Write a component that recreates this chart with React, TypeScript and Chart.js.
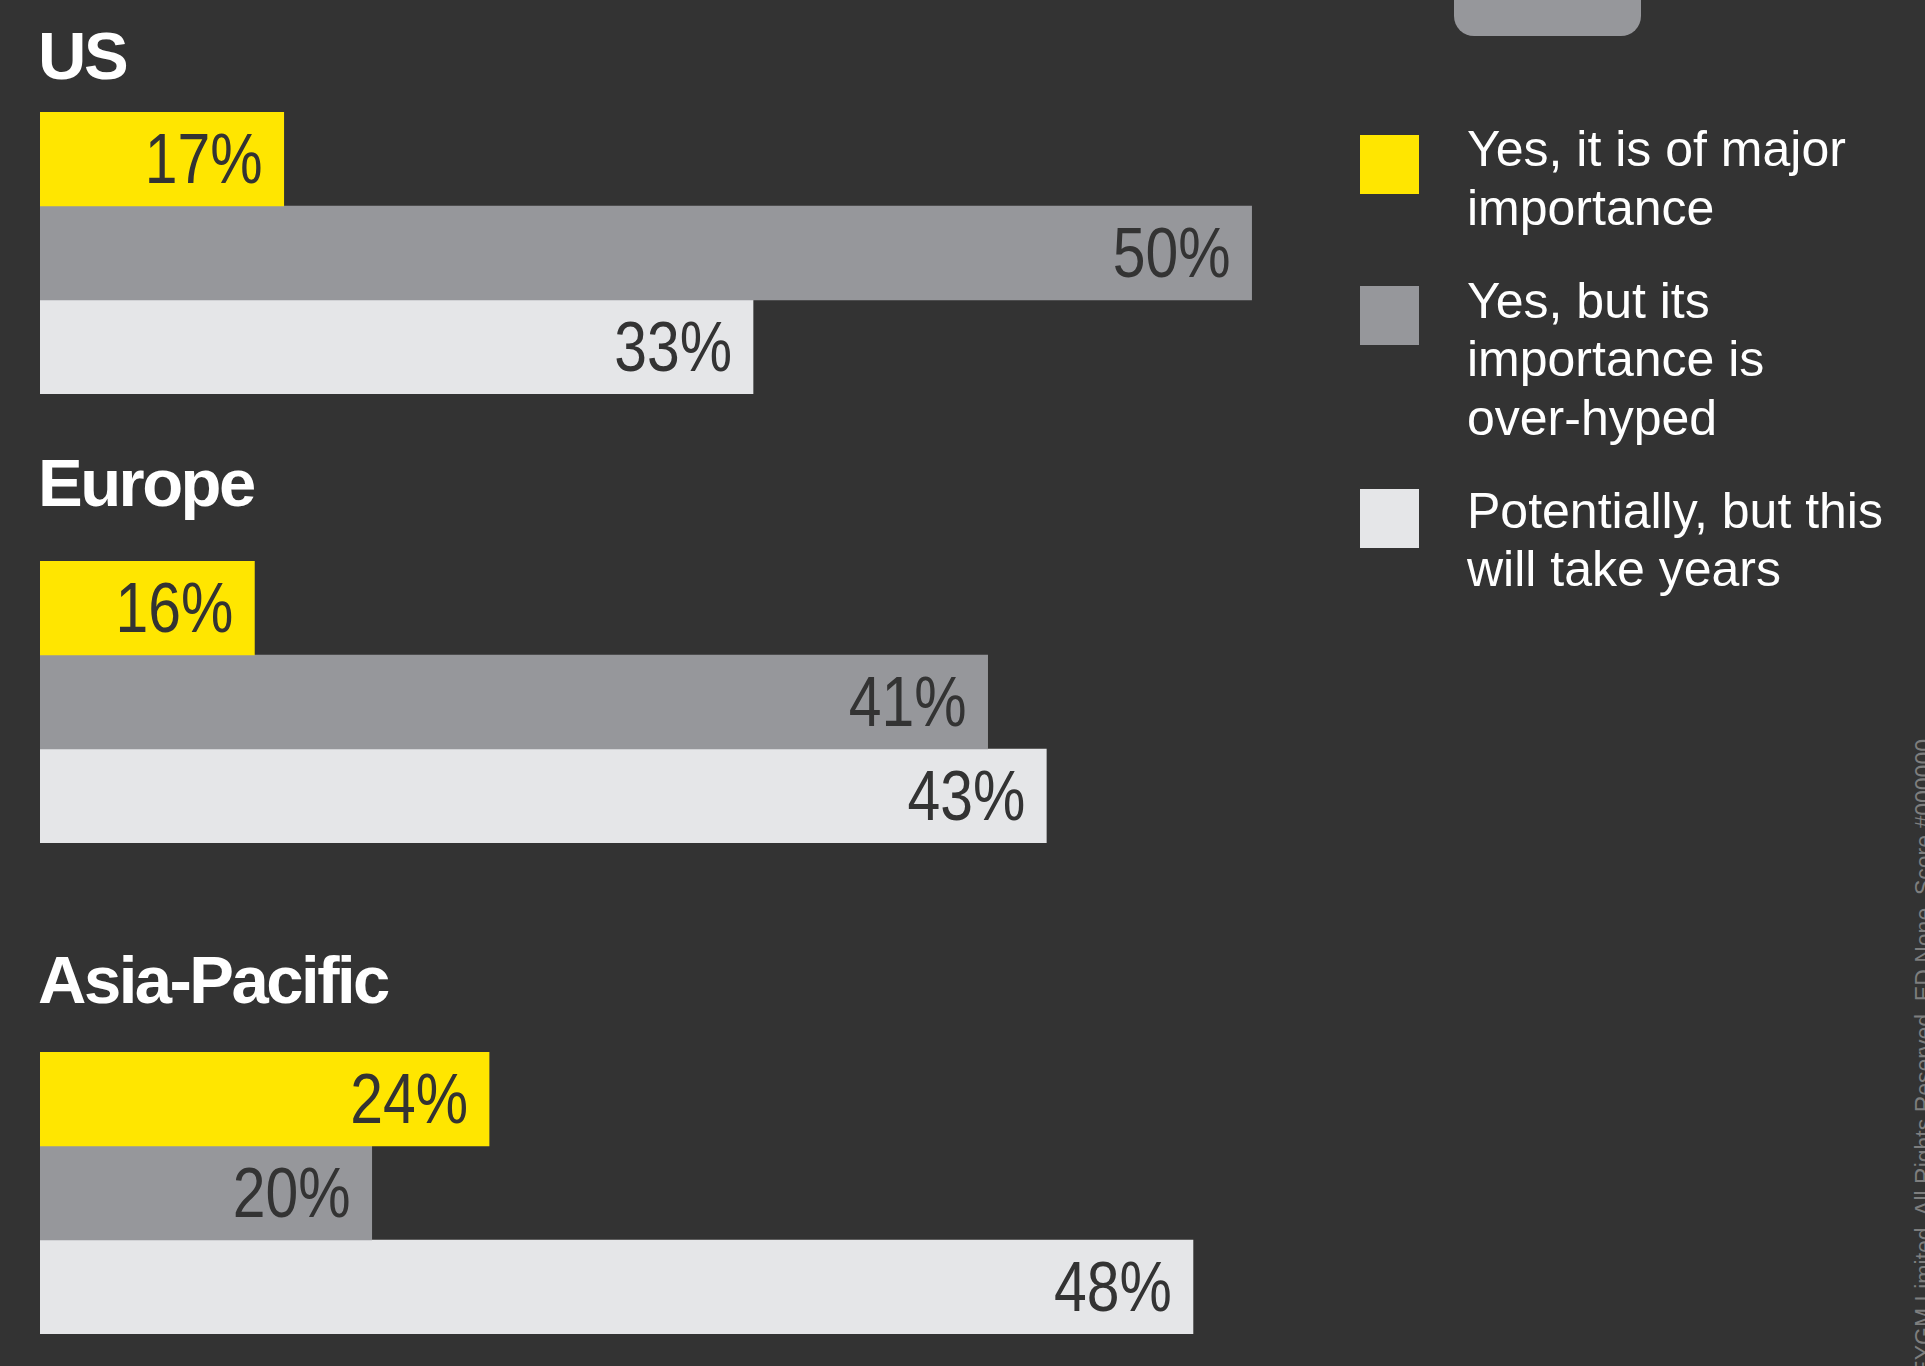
import React, { useEffect, useRef } from "react";
import { Chart, registerables } from "chart.js";

Chart.register(...registerables);

// ---- Data ----
const regions = ["US", "Europe", "Asia-Pacific"];
const seriesLabels = [
  "Yes, it is of major importance",
  "Yes, but its importance is over-hyped",
  "Potentially, but this will take years",
];
const legendLines = [
  ["Yes, it is of major", "importance"],
  ["Yes, but its", "importance is", "over-hyped"],
  ["Potentially, but this", "will take years"],
];
const majorImportance = [17, 16, 24];
const overHyped = [50, 41, 20];
const takesYears = [33, 43, 48];
const seriesColors = ["#ffe600", "#96979b", "#e5e6e8"];
const footnote = "EYGM Limited. All Rights Reserved. ED None. Score #000000";

// ---- Layout ----
const BG = "#333333";
const CHART_LEFT = 40;
const CHART_W = 1300;
const CHART_H = 282;
const AXIS_MIN = 8.69;
const AXIS_MAX = AXIS_MIN + CHART_W / 29.33;
const groupTops = [112, 561, 1052];
const titleBaselines = [79, 506, 1003];
const legendBaselines = [166.7, 318.3, 528.3];
const legendSquareTops = [135, 286, 489];

const seriesValues = [majorImportance, overHyped, takesYears];

const LABEL_SIZE = 71;

const labelPlugin = {
  id: "valueLabels",
  afterDatasetsDraw(chart: any) {
    const ctx = chart.ctx;
    ctx.save();
    ctx.font = `${LABEL_SIZE}px "Liberation Sans", Arial, sans-serif`;
    const w = ctx.measureText("00%").width;
    const sx = Math.min(1, (1.66 * LABEL_SIZE) / w);
    ctx.fillStyle = BG;
    ctx.textAlign = "right";
    ctx.textBaseline = "alphabetic";
    chart.data.datasets.forEach((ds: any, i: number) => {
      const meta = chart.getDatasetMeta(i);
      meta.data.forEach((bar: any, j: number) => {
        ctx.save();
        ctx.translate(bar.x - 21, bar.y + 24);
        ctx.scale(sx, 1);
        ctx.fillText(`${ds.data[j]}%`, 0, 0);
        ctx.restore();
      });
    });
    ctx.restore();
  },
};

function RegionChart({ idx }: { idx: number }) {
  const ref = useRef<HTMLCanvasElement>(null);
  useEffect(() => {
    const chart = new Chart(ref.current as HTMLCanvasElement, {
      type: "bar",
      data: {
        labels: [regions[idx]],
        datasets: seriesValues.map((vals, s) => ({
          label: seriesLabels[s],
          data: [vals[idx]],
          backgroundColor: seriesColors[s],
          borderWidth: 0,
          categoryPercentage: 1,
          barPercentage: 1,
        })),
      },
      options: {
        indexAxis: "y",
        responsive: false,
        animation: false,
        devicePixelRatio: 1,
        layout: { padding: 0 },
        scales: {
          x: { type: "linear", min: AXIS_MIN, max: AXIS_MAX, display: false },
          y: { display: false },
        },
        plugins: { legend: { display: false }, tooltip: { enabled: false } },
      } as any,
      plugins: [labelPlugin as any],
    });
    return () => chart.destroy();
  }, [idx]);
  return (
    <canvas
      ref={ref}
      width={CHART_W}
      height={CHART_H}
      style={{
        position: "absolute",
        left: CHART_LEFT,
        top: groupTops[idx],
        width: CHART_W,
        height: CHART_H,
      }}
    />
  );
}

export default function App() {
  useEffect(() => {
    document.body.style.margin = "0";
    document.body.style.background = BG;
  }, []);
  const titleSize = 67;
  const titleOffset = (titleSize - 1.117 * titleSize) / 2 + 0.905 * titleSize;
  const legSize = 50;
  const legLH = 58.5;
  const legOffset = (legLH - 1.117 * legSize) / 2 + 0.905 * legSize;
  return (
    <div
      style={{
        position: "absolute",
        left: 0,
        top: 0,
        width: 1925,
        height: 1366,
        overflow: "hidden",
        background: BG,
        fontFamily: '"Liberation Sans", Arial, sans-serif',
      }}
    >
      {/* top-right tab */}
      <div
        style={{
          position: "absolute",
          left: 1454,
          top: -30,
          width: 187,
          height: 66,
          borderRadius: 20,
          background: "#96979b",
        }}
      />
      {regions.map((r, i) => (
        <div
          key={r}
          style={{
            position: "absolute",
            left: 38,
            top: titleBaselines[i] - titleOffset,
            fontSize: titleSize,
            lineHeight: `${titleSize}px`,
            fontWeight: 700,
            letterSpacing: "-2.5px",
            color: "#ffffff",
            whiteSpace: "nowrap",
          }}
        >
          {r}
        </div>
      ))}
      {regions.map((r, i) => (
        <RegionChart key={r} idx={i} />
      ))}
      {legendLines.map((lines, i) => (
        <React.Fragment key={i}>
          <div
            style={{
              position: "absolute",
              left: 1360,
              top: legendSquareTops[i],
              width: 59,
              height: 59,
              background: seriesColors[i],
            }}
          />
          <div
            style={{
              position: "absolute",
              left: 1467,
              top: legendBaselines[i] - legOffset,
              fontSize: legSize,
              lineHeight: `${legLH}px`,
              color: "#ffffff",
              whiteSpace: "nowrap",
            }}
          >
            {lines.map((l, k) => (
              <div key={k}>{l}</div>
            ))}
          </div>
        </React.Fragment>
      ))}
      <div
        style={{
          position: "absolute",
          left: 1913,
          top: 739,
          fontSize: 23,
          lineHeight: "23px",
          color: "#7e7e7e",
          whiteSpace: "nowrap",
          transformOrigin: "0 0",
          transform: "rotate(-90deg) translateX(-100%)",
        }}
      >
        {footnote}
      </div>
    </div>
  );
}
